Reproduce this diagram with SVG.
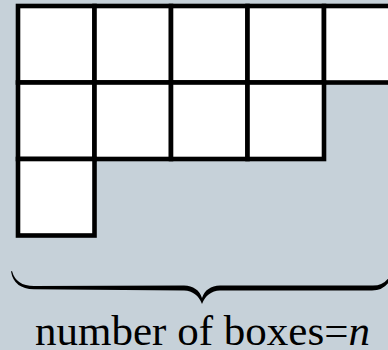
<svg xmlns="http://www.w3.org/2000/svg" width="388" height="350" viewBox="0 0 388 350">
<style>
.box{fill:#ffffff;stroke:#000000;stroke-width:4.6}
.lbl{font-family:"Liberation Serif","Times New Roman",serif;font-size:43px;fill:#000000}
.brace{fill:#000000;stroke:none}
</style>
<rect x="0" y="0" width="388" height="350" fill="#c6d1d9"/>
<g id="row1">
<g id="b11"><rect class="box" x="18" y="6" width="76.5" height="76.5"/></g>
<g id="b12"><rect class="box" x="94.5" y="6" width="76.5" height="76.5"/></g>
<g id="b13"><rect class="box" x="171" y="6" width="76.5" height="76.5"/></g>
<g id="b14"><rect class="box" x="247.5" y="6" width="76.5" height="76.5"/></g>
<g id="b15"><rect class="box" x="324" y="6" width="76.5" height="76.5"/></g>
</g>
<g id="row2">
<g id="b21"><rect class="box" x="18" y="82.5" width="76.5" height="76.5"/></g>
<g id="b22"><rect class="box" x="94.5" y="82.5" width="76.5" height="76.5"/></g>
<g id="b23"><rect class="box" x="171" y="82.5" width="76.5" height="76.5"/></g>
<g id="b24"><rect class="box" x="247.5" y="82.5" width="76.5" height="76.5"/></g>
</g>
<g id="row3">
<g id="b31"><rect class="box" x="18" y="159" width="76.5" height="76.5"/></g>
</g>
<g id="brace">
<path class="brace" d="M12,271 Q16,286 34,286 L184,285.5 Q198,286 202,298 Q206,286 220,285.5 L372,285.5 Q386,286 392,272 L393,273 Q388,290.5 372,290.5 L220,290.5 Q207,291 202,304 Q197,291 184,290.5 L34,289.2 Q14,289 11,271.5 Z"/>
</g>
<g id="label">
<text class="lbl" x="35" y="345" textLength="335" lengthAdjust="spacing">number of boxes=<tspan font-style="italic">n</tspan></text>
</g>
</svg>
